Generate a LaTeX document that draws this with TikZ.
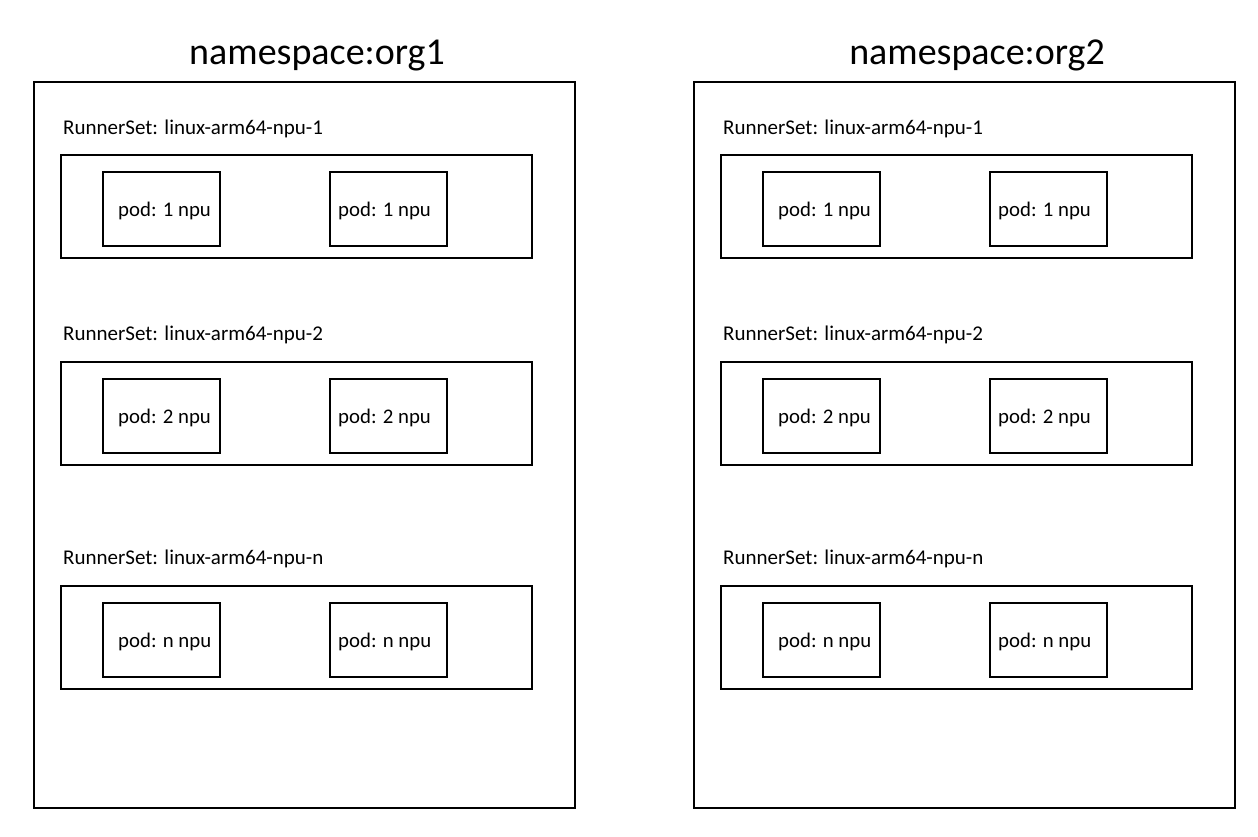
\documentclass[tikz,border=0pt]{standalone}
\usepackage{fontspec}
\setmainfont{Carlito}
\begin{document}
\begin{tikzpicture}[x=1pt,y=-1pt,
  box/.style={draw,line width=2pt,inner sep=0pt,anchor=north west},
  lbl/.style={anchor=base west,inner sep=0pt,font=\fontsize{21}{24}\selectfont},
  podtxt/.style={anchor=base west,inner sep=0pt,font=\fontsize{20.8}{24}\selectfont},
  ttl/.style={anchor=base,inner sep=0pt,font=\fontsize{38}{44}\selectfont}]
\useasboundingbox (0,0) rectangle (1258,836);
\foreach \o/\dx/\org in {a/0/org1,b/660/org2}{
  \node[ttl] (title\o) at (317+\dx,64) {namespace:\org};
  \node[box,minimum width=541pt,minimum height=726pt] (outer\o) at (33+\dx,81) {};
  \foreach \r/\ly/\by/\nm/\pn in {1/134/154/1/1,2/340/361/2/2,3/564/585/n/n}{
    \node[lbl] (lbl\o\r) at (63+\dx,\ly) {RunnerSet: linux-arm64-npu-\nm};
    \node[box,minimum width=471pt,minimum height=103pt] (rs\o\r) at (60+\dx,\by) {};
    \node[box,minimum width=117pt,minimum height=74pt] (podL\o\r) at (102+\dx,\by+17) {};
    \node[box,minimum width=117pt,minimum height=74pt] (podR\o\r) at (329+\dx,\by+17) {};
    \node[podtxt] (tL\o\r) at (118+\dx,\by+62) {pod: \pn{} npu};
    \node[podtxt] (tR\o\r) at (338+\dx,\by+62) {pod: \pn{} npu};
  }
}
\end{tikzpicture}
\end{document}
